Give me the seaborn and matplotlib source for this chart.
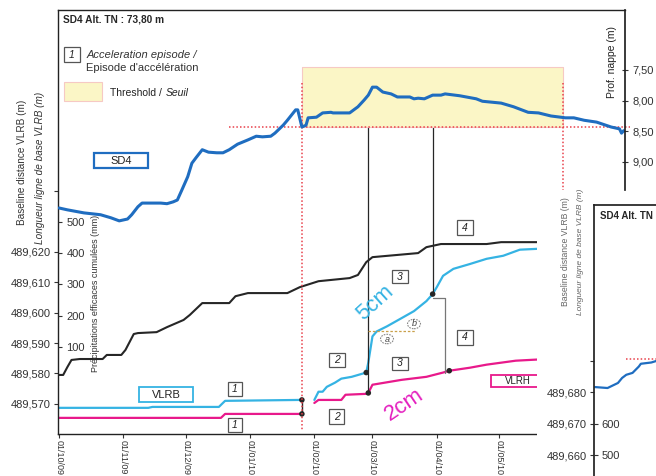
import pandas as pd
import matplotlib
matplotlib.use("Agg")
import matplotlib.pyplot as plt
import matplotlib.dates as mdates
from matplotlib.patches import Rectangle, Circle
import seaborn as sns

# ---------------- data ----------------
# Water-table depth at piezometer SD4 (m below ground)
sd4_dates = ["2009-10-01", "2009-10-05", "2009-10-13", "2009-10-21", "2009-10-26", "2009-10-30",
             "2009-11-03", "2009-11-05", "2009-11-08", "2009-11-10", "2009-11-19", "2009-11-22",
             "2009-11-25", "2009-11-27", "2009-11-29", "2009-12-02", "2009-12-04", "2009-12-06",
             "2009-12-09", "2009-12-12", "2009-12-16", "2009-12-19", "2009-12-22", "2009-12-26",
             "2009-12-31", "2010-01-04", "2010-01-07", "2010-01-11", "2010-01-13", "2010-01-17",
             "2010-01-19", "2010-01-23", "2010-01-24", "2010-01-26", "2010-01-28", "2010-01-29",
             "2010-02-02", "2010-02-05", "2010-02-09", "2010-02-10", "2010-02-18", "2010-02-22",
             "2010-02-25", "2010-02-27", "2010-03-01", "2010-03-03", "2010-03-06", "2010-03-10",
             "2010-03-13", "2010-03-19", "2010-03-21", "2010-03-23", "2010-03-26", "2010-03-30",
             "2010-04-03", "2010-04-05", "2010-04-12", "2010-04-20", "2010-04-23", "2010-05-02",
             "2010-05-08", "2010-05-15", "2010-05-20", "2010-05-26", "2010-06-02", "2010-06-06",
             "2010-06-11", "2010-06-17", "2010-06-24", "2010-06-28", "2010-06-29", "2010-06-30"]
sd4_depth = [9.75, 9.78, 9.83, 9.86, 9.91, 9.96,
             9.93, 9.86, 9.73, 9.67, 9.67, 9.68,
             9.65, 9.62, 9.47, 9.24, 9.02, 8.93,
             8.80, 8.84, 8.85, 8.85, 8.80, 8.71,
             8.64, 8.58, 8.59, 8.58, 8.53, 8.40,
             8.32, 8.15, 8.15, 8.43, 8.40, 8.28,
             8.27, 8.20, 8.19, 8.20, 8.20, 8.10,
             7.99, 7.91, 7.78, 7.78, 7.86, 7.89,
             7.94, 7.94, 7.97, 7.96, 7.97, 7.91,
             7.91, 7.89, 7.92, 7.97, 8.01, 8.04,
             8.10, 8.19, 8.20, 8.25, 8.28, 8.28,
             8.32, 8.35, 8.43, 8.46, 8.53, 8.49]

# Cumulative effective rainfall (mm)
rain_dates = ["2009-10-01", "2009-10-03", "2009-10-05", "2009-10-07", "2009-10-11", "2009-10-22",
              "2009-10-24", "2009-10-31", "2009-11-02", "2009-11-06", "2009-11-08", "2009-11-17",
              "2009-11-22", "2009-11-30", "2009-12-03", "2009-12-09", "2009-12-22", "2009-12-25",
              "2009-12-31", "2010-01-19", "2010-01-25", "2010-02-03", "2010-02-18", "2010-02-22",
              "2010-02-26", "2010-03-01", "2010-03-23", "2010-03-27", "2010-04-03", "2010-04-25",
              "2010-05-02", "2010-05-25"]
rain_mm = [10, 10, 35, 58, 61, 61,
           74, 74, 90, 141, 144, 147,
           163, 186, 202, 240, 240, 262,
           272, 272, 291, 310, 320, 330,
           371, 387, 400, 419, 429, 429,
           435, 435]

# Baseline length VLRB (m), before and after the data gap
vlrb_dates_a = ["2009-10-01", "2009-11-13", "2009-11-15", "2009-12-17", "2009-12-20", "2010-01-25", "2010-01-26"]
vlrb_a = [489.5687, 489.5687, 489.5690, 489.5690, 489.5710, 489.5713, 489.5713]
vlrb_dates_b = ["2010-02-01", "2010-02-03", "2010-02-05", "2010-02-07", "2010-02-11", "2010-02-14",
                "2010-02-19", "2010-02-26", "2010-02-27", "2010-03-01", "2010-03-03", "2010-03-08",
                "2010-03-14", "2010-03-21", "2010-03-27", "2010-03-30", "2010-04-01", "2010-04-04",
                "2010-04-09", "2010-04-17", "2010-04-25", "2010-05-03", "2010-05-11", "2010-05-20",
                "2010-05-25"]
vlrb_b = [489.5713, 489.5740, 489.5740, 489.5756, 489.5770, 489.5783,
          489.5789, 489.5803, 489.5836, 489.5922, 489.5938, 489.5955,
          489.5978, 489.6005, 489.6038, 489.6061, 489.6084, 489.6121,
          489.6144, 489.6160, 489.6177, 489.6187, 489.6207, 489.6210,
          489.6210]

# Second baseline VLRH (m)
vlrh_dates_a = ["2009-10-01", "2009-12-18", "2009-12-20", "2010-01-26"]
vlrh_a = [489.5654, 489.5654, 489.5667, 489.5667]
vlrh_dates_b = ["2010-02-01", "2010-02-03", "2010-02-14", "2010-02-16", "2010-02-26", "2010-02-27",
                "2010-03-01", "2010-03-15", "2010-03-27", "2010-04-04", "2010-04-07", "2010-04-17",
                "2010-04-25", "2010-05-09", "2010-05-20", "2010-05-25"]
vlrh_b = [489.5703, 489.5713, 489.5713, 489.5730, 489.5733, 489.5736,
          489.5763, 489.5779, 489.5789, 489.5803, 489.5809, 489.5819,
          489.5829, 489.5842, 489.5846, 489.5846]

# Marked readings (episode starts / ends)
dot_dates = ["2010-01-26", "2010-01-26", "2010-02-26", "2010-02-27", "2010-03-30", "2010-04-07"]
dot_values = [489.5713, 489.5667, 489.5803, 489.5736, 489.6061, 489.5809]

# Threshold on water-table depth
threshold_depth = 8.43
threshold_top = 7.45
threshold_start = "2010-01-26"
threshold_end = "2010-06-01"
threshold_line_start = "2009-12-22"

# Acceleration episode markers
episode_dates = ["2010-02-27", "2010-03-30"]
episode_bottoms = [489.5736, 489.6061]
episode_top = 489.6779
bracket_dates = ["2010-03-30", "2010-04-05"]
bracket_values = [489.6048, 489.5803]
ab_level = 489.5938
ab_dates = ["2010-02-27", "2010-03-22"]

# Axis ticks
month_ticks = ["01/10/09", "01/11/09", "01/12/09", "01/01/10", "01/02/10", "01/03/10", "01/04/10", "01/05/10"]
vlrb_ticks = [489.57, 489.58, 489.59, 489.60, 489.61, 489.62, 489.64]
vlrb_tick_labels = ["489,570", "489,580", "489,590", "489,600", "489,610", "489,620", ""]
rain_ticks = [100, 200, 300, 400, 500]
depth_ticks = [7.5, 8.0, 8.5, 9.0]
depth_tick_labels = ["7,50", "8,00", "8,50", "9,00"]

# Neighbouring panel (next station)
inset_dates = ["2009-10-01", "2009-10-07", "2009-10-12", "2009-10-14", "2009-10-16", "2009-10-19",
               "2009-10-22", "2009-10-23", "2009-10-28", "2009-10-31", "2009-11-03"]
inset_vlrb = [489.6816, 489.6813, 489.6829, 489.6845, 489.6855, 489.6861,
              489.6881, 489.6890, 489.6894, 489.6900, 489.6905]
inset_threshold = 489.6906
inset_threshold_start = "2009-10-16"
inset_ticks = [489.66, 489.67, 489.68, 489.69]
inset_tick_labels = ["489,660", "489,670", "489,680", ""]
inset_rain_ticks = [500, 600]

# ---------------- style ----------------
sns.set_theme(style="ticks")
plt.rcParams["font.family"] = ["Liberation Sans", "DejaVu Sans"]

BLUE = "#1f6dc0"
CYAN = "#35b3e3"
PINK = "#e8198b"
MAGENTA = "#e41fbf"
BLACK = "#262626"
RED = "#e8404a"
YELLOW = "#fbf6c6"
RED_DOTS = (0, (1, 1.4))

W, H = 656, 476


def frame(x0, y0, x1, y1):
    return [x0 / W, 1 - y1 / H, (x1 - x0) / W, (y1 - y0) / H]


def fpos(x, y):
    return x / W, 1 - y / H


def T(s):
    return pd.Timestamp(s)


def N(s):
    return mdates.date2num(pd.Timestamp(s))


fig = plt.figure(figsize=(W / 100, H / 100), dpi=100)
fig.patch.set_facecolor("white")


def boxed(x0, y0, x1, y1, text, ec, lw=1.0, fs=7.5, style="normal", color="#222222", z=3):
    fig.add_artist(Rectangle((x0 / W, 1 - y1 / H), (x1 - x0) / W, (y1 - y0) / H,
                             transform=fig.transFigure, fc="white", ec=ec, lw=lw, zorder=z))
    fig.text((x0 + x1) / 2 / W, 1 - (y0 + y1) / 2 / H, text, ha="center", va="center",
             fontsize=fs, style=style, color=color, zorder=z + 0.1)


# ---------------- main panel ----------------
ax = fig.add_axes(frame(58, 10, 625, 434))
ax.set_facecolor("none")
ax_r = ax.twinx()   # cumulative rainfall
ax_s = ax.twinx()   # water-table depth

x_left, x_right = T("2009-09-30 12:00"), T("2010-06-30 16:00")

seg = pd.DataFrame({
    "date": pd.to_datetime(vlrb_dates_a + vlrb_dates_b),
    "value": vlrb_a + vlrb_b,
    "part": ["a"] * len(vlrb_a) + ["b"] * len(vlrb_b),
})
sns.lineplot(data=seg, x="date", y="value", units="part", estimator=None,
             color=CYAN, lw=1.6, ax=ax, legend=False)
seg_h = pd.DataFrame({
    "date": pd.to_datetime(vlrh_dates_a + vlrh_dates_b),
    "value": vlrh_a + vlrh_b,
    "part": ["a"] * len(vlrh_a) + ["b"] * len(vlrh_b),
})
sns.lineplot(data=seg_h, x="date", y="value", units="part", estimator=None,
             color=PINK, lw=1.6, ax=ax, legend=False)

# episode verticals, bracket and dots
for d, b in zip(episode_dates, episode_bottoms):
    ax.plot([T(d), T(d)], [b, episode_top], color=BLACK, lw=0.9)
ax.plot([T(dot_dates[0]), T(dot_dates[1])], [dot_values[0], dot_values[1]], color=BLACK, lw=1.0)
ax.plot([T(bracket_dates[0]), T(bracket_dates[1]), T(bracket_dates[1])],
        [bracket_values[0], bracket_values[0], bracket_values[1]], color="#777777", lw=0.9)
ax.plot([T(ab_dates[0]), T(ab_dates[1])], [ab_level, ab_level], color="#c9a04a",
        lw=0.9, ls=(0, (2, 1.5)))
sns.scatterplot(x=pd.to_datetime(dot_dates), y=dot_values, ax=ax, color=BLACK, s=16,
                edgecolor="none", zorder=5, legend=False)

ax.set_ylim(489.5601, 489.6995)
ax.set_yticks(vlrb_ticks, labels=vlrb_tick_labels)
ax.tick_params(axis="y", direction="out", length=3, width=0.8, labelsize=8, colors="#333333", pad=2)
ax.set_xticks(pd.to_datetime(month_ticks, format="%d/%m/%y"), labels=month_ticks, rotation=270)
ax.tick_params(axis="x", direction="out", length=3, width=0.8, labelsize=6.5, colors="#333333", pad=1)
for side in ["left", "top", "bottom"]:
    ax.spines[side].set_color("#222222")
    ax.spines[side].set_linewidth(1.0)
ax.spines["right"].set_visible(False)
ax.spines["bottom"].set_bounds(N(x_left), N("2010-05-20"))
ax.set(xlabel="", ylabel="")

# rainfall
sns.lineplot(x=pd.to_datetime(rain_dates), y=rain_mm, ax=ax_r, color=BLACK, lw=1.5)
ax_r.set_ylim(-179, 1178)
ax_r.yaxis.tick_left()
ax_r.set_yticks(rain_ticks, labels=[str(v) for v in rain_ticks])
ax_r.tick_params(axis="y", direction="in", length=3, width=0.8, labelsize=8, colors="#333333", pad=-19.5)
for s in ax_r.spines.values():
    s.set_visible(False)
ax_r.set(xlabel="", ylabel="")

# water table + threshold
ax_s.fill_between([T(threshold_start), T(threshold_end)], threshold_top, threshold_depth,
                  color=YELLOW, ec="#f6c9c4", lw=0.8, zorder=0)
ax_s.plot([T(threshold_line_start), T("2010-07-03")], [threshold_depth, threshold_depth],
          color=RED, lw=1.1, ls=RED_DOTS, clip_on=False)
ax_s.plot([T(threshold_start), T(threshold_start)], [7.71, 13.37], color=RED, lw=1.1, ls=RED_DOTS)
ax_s.plot([T(threshold_end), T(threshold_end)], [7.71, 9.46], color=RED, lw=1.1, ls=RED_DOTS)
sns.lineplot(x=pd.to_datetime(sd4_dates), y=sd4_depth, ax=ax_s, color=BLUE, lw=2.2)
ax_s.set_ylim(13.435, 6.522)
ax_s.set_yticks(depth_ticks, labels=depth_tick_labels)
ax_s.tick_params(axis="y", direction="inout", length=5, width=0.8, labelsize=8, colors="#333333", pad=3)
for side, s in ax_s.spines.items():
    s.set_visible(side == "right")
ax_s.spines["right"].set_bounds(6.522, 9.46)
ax_s.spines["right"].set_color("#222222")
ax_s.set(xlabel="", ylabel="")

ax.set_xlim(x_left, x_right)

# ---------------- texts of the main panel ----------------
fig.text(*fpos(63, 20), "SD4 Alt. TN : 73,80 m", fontsize=7.3, fontweight="bold", va="center")
boxed(64, 47, 80, 62, "1", ec="#555555", lw=0.9, fs=7.5, style="italic")
fig.text(*fpos(87, 55), "Acceleration episode /", fontsize=8, style="italic", va="center", color="#333333")
fig.text(*fpos(86, 68), "Episode d'accélération", fontsize=8, va="center", color="#333333")
fig.add_artist(Rectangle((64 / W, 1 - 101 / H), 38 / W, 19 / H, transform=fig.transFigure,
                         fc=YELLOW, ec="#f6c9c4", lw=0.8))
fig.text(*fpos(110, 93), "Threshold /", fontsize=7.5, va="center", color="#222222")
fig.text(*fpos(166, 93), "Seuil", fontsize=7.5, style="italic", va="center", color="#222222")
fig.text(*fpos(612, 62), "Prof. nappe (m)", fontsize=7.5, rotation=90, ha="center", va="center",
         color="#222222")
fig.text(*fpos(22, 162), "Baseline distance VLRB (m)", fontsize=7.2, rotation=90,
         ha="center", va="center", color="#333333")
fig.text(*fpos(40, 168), "Longueur ligne de base VLRB (m)", fontsize=7.2, style="italic",
         rotation=90, ha="center", va="center", color="#333333")
fig.text(*fpos(95, 293), "Précipitations efficaces cumulées (mm)", fontsize=6.5, rotation=90,
         ha="center", va="center", color="#333333")

boxed(94, 153, 148, 168, "SD4", ec=BLUE, lw=1.6, fs=8)
boxed(139, 387, 193, 402, "VLRB", ec=CYAN, lw=1.3, fs=8)
boxed(491, 375, 545, 387, "VLRH", ec=PINK, lw=1.3, fs=7)

for (x0, y0, x1, y1, t) in [(228, 382, 242, 396, "1"), (228, 418, 242, 432, "1"),
                            (329, 353, 345, 367, "2"), (329, 409, 344, 424, "2"),
                            (392, 270, 408, 283, "3"), (392, 357, 408, 370, "3"),
                            (457, 220, 473, 235, "4"), (457, 330, 473, 345, "4")]:
    boxed(x0, y0, x1, y1, t, ec="#555555", lw=0.9, fs=7.5, style="italic")

for (cx, cy, t) in [(387, 339, "a"), (414, 324, "b")]:
    fig.add_artist(Circle(fpos(cx, cy), 6.5 / W, transform=fig.transFigure, fc="white",
                          ec="#888888", lw=0.8, ls=(0, (1.5, 1))))
    fig.text(*fpos(cx, cy), t, fontsize=6.5, style="italic", ha="center", va="center", color="#444444")

fig.text(*fpos(375, 303), "5cm", fontsize=16, color=CYAN, rotation=42, ha="center", va="center")
fig.text(*fpos(404, 405), "2cm", fontsize=16, color=MAGENTA, rotation=34, ha="center", va="center")

# ---------------- neighbouring panel ----------------
fig.add_artist(Rectangle((537 / W, 0), (W - 537) / W, (H - 193) / H, transform=fig.transFigure,
                         fc="white", ec="none", zorder=5))
ax_in = fig.add_axes(frame(594, 205, 720, 520), zorder=6)
ax_in.set_facecolor("white")
ax_in.plot([T(inset_threshold_start), T("2009-11-30")], [inset_threshold, inset_threshold],
           color=RED, lw=1.1, ls=RED_DOTS)
sns.lineplot(x=pd.to_datetime(inset_dates), y=inset_vlrb, ax=ax_in, color=BLUE, lw=1.6)
ax_in.set_xlim(x_left, T("2009-11-30"))
ax_in.set_ylim(489.6394, 489.7394)
ax_in.set_yticks(inset_ticks, labels=inset_tick_labels)
ax_in.tick_params(axis="y", direction="out", length=3, width=0.8, labelsize=8, colors="#333333", pad=2)
ax_in.set_xticks([])
ax_in.spines["right"].set_visible(False)
ax_in.spines["bottom"].set_visible(False)
for side in ["left", "top"]:
    ax_in.spines[side].set_color("#222222")
ax_in.set(xlabel="", ylabel="")

ax_in2 = ax_in.twinx()
ax_in2.set_zorder(7)
ax_in2.set_ylim(293.7, 1293.7)
ax_in2.yaxis.tick_left()
ax_in2.set_yticks(inset_rain_ticks, labels=[str(v) for v in inset_rain_ticks])
ax_in2.tick_params(axis="y", direction="in", length=3, width=0.8, labelsize=8, colors="#333333", pad=-18.5)
for s in ax_in2.spines.values():
    s.set_visible(False)

fig.text(*fpos(600, 216), "SD4 Alt. TN", fontsize=7, fontweight="bold", va="center", zorder=8)
fig.text(*fpos(566, 252), "Baseline distance VLRB (m)", fontsize=6.2, rotation=90,
         ha="center", va="center", color="#666666", zorder=8)
fig.text(*fpos(581, 252), "Longueur ligne de base VLRB (m)", fontsize=6.0, style="italic",
         rotation=90, ha="center", va="center", color="#666666", zorder=8)

fig.savefig("out.png", dpi=100, facecolor="white")
